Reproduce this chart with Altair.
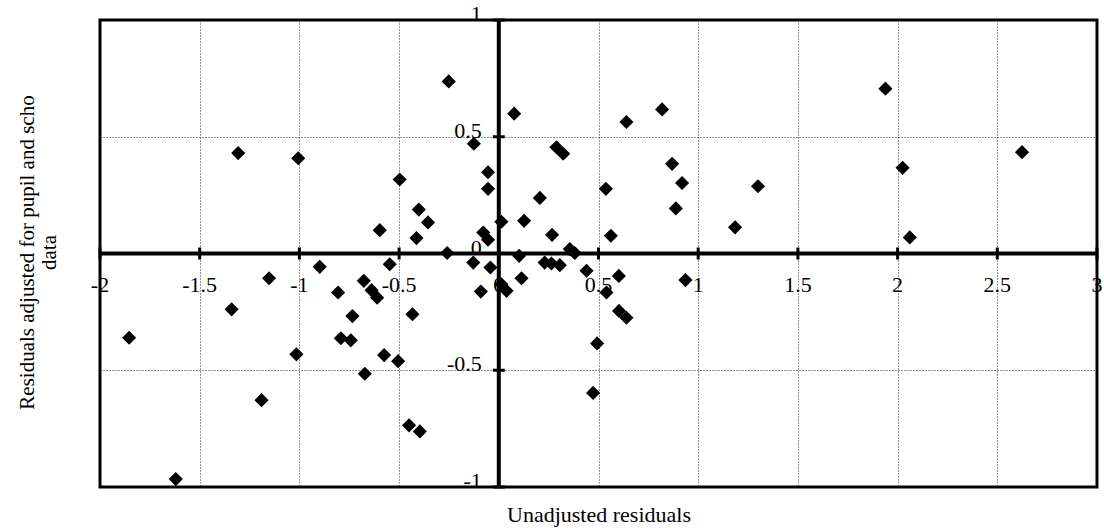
import altair as alt
import pandas as pd

# Data
unadjusted = [-1.307, -1.006, -0.497, -0.401, -0.355, -0.597, -0.413, -0.251, 0.077, -0.125,
              -0.054, -0.054, 0.206, 0.127, 0.013, 0.267, -0.078, -0.054, 0.289, 0.323,
              0.640, 0.819, 0.869, 0.919, 0.888, 0.537, 0.562, 1.185, 1.300, -0.259,
              0.356, 0.381, 0.102, -0.128, -0.042, 0.114, -0.090, 0.013, 0.039, 0.230,
              0.264, 0.306, 0.440, 0.602, 0.540, 0.603, 0.640, 0.493, 0.473, 0.936,
              1.939, 2.624, 2.025, 2.061, -0.898, -0.547, -1.152, -0.806, -0.677, -0.638,
              -0.610, -0.734, -0.433, -1.340, -1.854, -0.792, -0.742, -1.015, -0.575, -0.505,
              -0.672, -1.190, -0.450, -0.396, -1.620]
adjusted = [0.430, 0.408, 0.317, 0.188, 0.133, 0.100, 0.066, 0.737, 0.599, 0.470,
            0.348, 0.277, 0.238, 0.140, 0.136, 0.080, 0.090, 0.059, 0.455, 0.427,
            0.563, 0.617, 0.384, 0.302, 0.193, 0.277, 0.076, 0.112, 0.288, 0.002,
            0.019, 0.002, -0.010, -0.039, -0.060, -0.106, -0.163, -0.132, -0.160, -0.039,
            -0.043, -0.050, -0.074, -0.096, -0.167, -0.246, -0.275, -0.385, -0.597, -0.114,
            0.706, 0.434, 0.367, 0.069, -0.057, -0.046, -0.106, -0.167, -0.117, -0.157,
            -0.189, -0.268, -0.260, -0.239, -0.361, -0.363, -0.372, -0.432, -0.435, -0.461,
            -0.515, -0.628, -0.736, -0.762, -0.966]

x_ticks = [-2, -1.5, -1, -0.5, 0, 0.5, 1, 1.5, 2, 2.5, 3]
y_ticks = [-1, -0.5, 0, 0.5, 1]
x_tick_labels = ["-2", "-1.5", "-1", "-0.5", "0", "0.5", "1", "1.5", "2", "2.5", "3"]
y_tick_labels = ["-1", "-0.5", "0", "0.5", "1"]

x_title = "Unadjusted residuals"
y_title = ["Residuals adjusted for pupil and scho", "data"]

FONT = "Liberation Serif"

pts = pd.DataFrame({"x": unadjusted, "y": adjusted})
xt = pd.DataFrame({"x": x_ticks, "label": x_tick_labels})
yt = pd.DataFrame({"y": y_ticks, "label": y_tick_labels})

xscale = alt.Scale(domain=[-2, 3], nice=False, zero=False)
yscale = alt.Scale(domain=[-1, 1], nice=False, zero=False)

xaxis = alt.Axis(values=x_ticks, labels=False, ticks=False, domain=False,
                 grid=True, gridColor="#000000", gridDash=[1, 2], gridWidth=1, gridOpacity=0.85,
                 title=x_title, titleFont=FONT, titleFontSize=22, titleFontWeight="normal",
                 titleColor="#000000", titleBaseline="middle", titleY=27)
yaxis = alt.Axis(values=y_ticks, labels=False, ticks=False, domain=False,
                 grid=True, gridColor="#000000", gridDash=[1, 2], gridWidth=1, gridOpacity=0.85,
                 title=y_title, titleFont=FONT, titleFontSize=21, titleFontWeight="normal",
                 titleColor="#000000", titleAngle=-90, titleAlign="center",
                 titleBaseline="top", titleX=-84, titleY=232, titleLineHeight=22)

base = alt.Chart(pts).mark_point(shape="diamond", filled=True, color="#000000",
                                 size=200, opacity=1).encode(
    x=alt.X("x:Q", scale=xscale, axis=xaxis),
    y=alt.Y("y:Q", scale=yscale, axis=yaxis),
)

xlab = alt.Chart(xt).mark_text(font=FONT, fontSize=22, color="#000000",
                               align="center", baseline="middle", dy=31).encode(
    x=alt.X("x:Q", scale=xscale), y=alt.datum(0), text="label:N")

ylab = alt.Chart(yt).mark_text(font=FONT, fontSize=22, color="#000000",
                               align="right", baseline="alphabetic", dx=-17, dy=1).encode(
    x=alt.datum(0), y=alt.Y("y:Q", scale=yscale), text="label:N")

vline = alt.Chart().mark_rule(color="#000000", strokeWidth=4).encode(x=alt.datum(0))
hline = alt.Chart().mark_rule(color="#000000", strokeWidth=4).encode(y=alt.datum(0))

xtick = alt.Chart(xt).mark_tick(orient="vertical", color="#000000", size=12,
                                thickness=3, opacity=1).encode(
    x=alt.X("x:Q", scale=xscale), y=alt.datum(0))
ytick = alt.Chart(yt).mark_tick(orient="horizontal", color="#000000", size=12,
                                thickness=3, opacity=1).encode(
    x=alt.datum(0), y=alt.Y("y:Q", scale=yscale))

chart = alt.layer(base, xlab, ylab, vline, hline, xtick, ytick).properties(
    width=997, height=467,
    autosize=alt.AutoSizeParams(type="none"),
    padding={"left": 100, "top": 20, "right": 7, "bottom": 41},
    background="#ffffff",
).configure_view(stroke="#000000", strokeWidth=3, strokeOpacity=1)

chart.save("out.html", embed_options={"renderer": "svg", "actions": False})
